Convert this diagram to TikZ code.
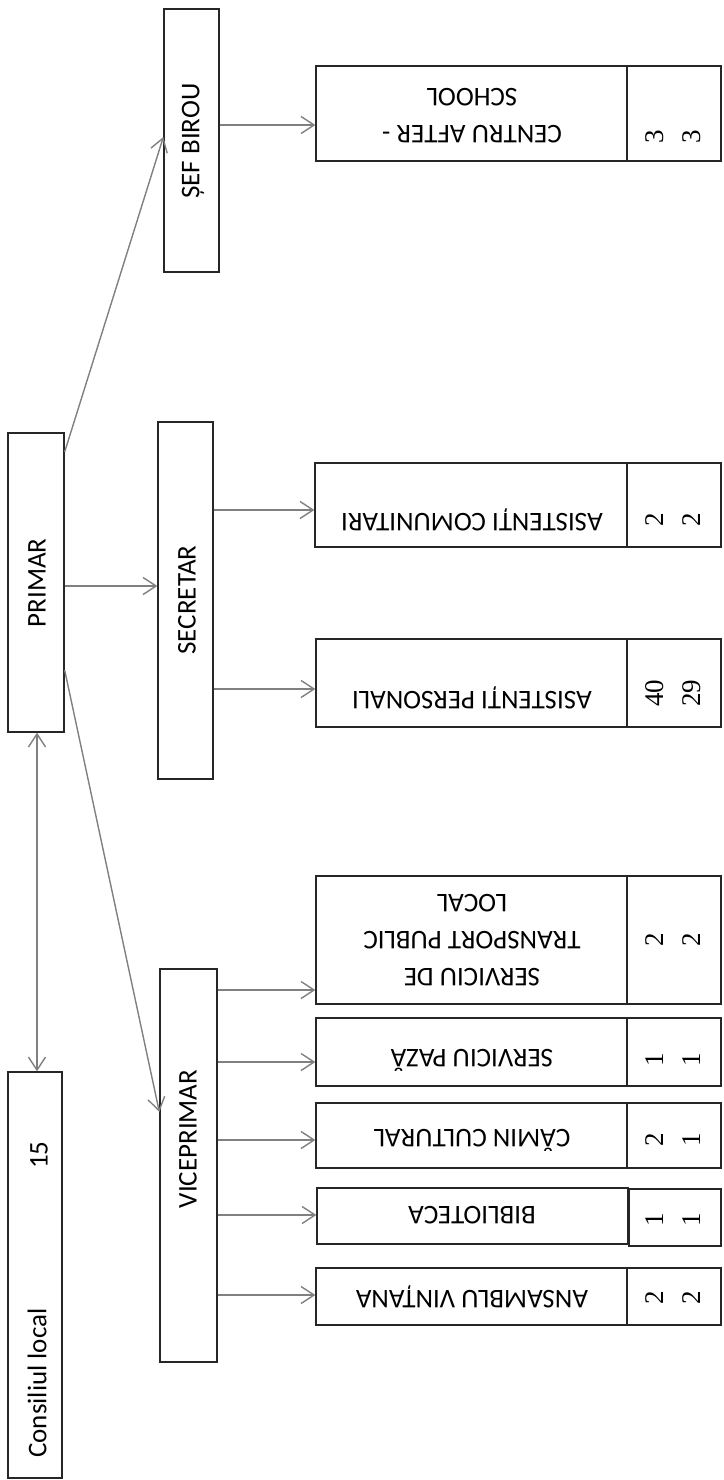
\documentclass[tikz,border=0pt]{standalone}
\usepackage{fontspec}
\setmainfont{Carlito}
\newfontfamily\numfont{Liberation Serif}
\usetikzlibrary{arrows.meta,fit}
\begin{document}
\begin{tikzpicture}[x=1pt,y=-1pt,
  box/.style={draw=black!85,line width=1.3pt,inner sep=0pt},
  conn/.style={draw=black!50,line width=1.4pt,-{Straight Barb[length=13pt,width=17pt,line width=1.4pt]}},
  dconn/.style={draw=black!50,line width=1.4pt,{Straight Barb[length=13pt,width=17pt,line width=1.4pt]}-{Straight Barb[length=13pt,width=17pt,line width=1.4pt]}},
  ltxt/.style={rotate=90,font=\fontsize{27}{32}\selectfont,inner sep=0pt},
  rtxt/.style={rotate=180,font=\fontsize{27}{37}\selectfont,align=center,inner sep=0pt},
  ntxt/.style={rotate=90,font=\numfont\fontsize{27}{30}\selectfont,inner sep=0pt}]
\useasboundingbox (0,0) rectangle (723,1480);
\fill[white] (0,0) rectangle (723,1480);

% left hierarchy boxes
\node[box,fit={(8,1072) (62,1478)}] (cons) {};
\node[ltxt] (constxt) at (37,1383) {Consiliul local};
\node[ltxt] (consnr) at (39,1155) {15};
\node[box,fit={(8,433) (64,732)}] (primar) {};
\node[ltxt] (primartxt) at (37,583) {PRIMAR};
\node[box,fit={(164,9) (219,272)}] (sef) {};
\node[ltxt] (seftxt) at (193,141) {ȘEF BIROU};
\node[box,fit={(158,422) (213,779)}] (secr) {};
\node[ltxt] (secrtxt) at (187,600) {SECRETAR};
\node[box,fit={(160,969) (217,1362)}] (vice) {};
\node[ltxt] (vicetxt) at (188,1139) {VICEPRIMAR};

% right column boxes
\node[box,fit={(316,66) (627,161)}] (after) {};
\node[box,fit={(627,66) (721,161)}] (aftern) {};
\node[rtxt] at (472,116) {CENTRU AFTER -\\SCHOOL};
\node[ntxt] at (655,137) {3};
\node[ntxt] at (692,137) {3};

\node[box,fit={(315,463) (627,547)}] (acom) {};
\node[box,fit={(627,463) (721,547)}] (acomn) {};
\node[rtxt] at (472,520) {ASISTENȚI COMUNITARI};
\node[ntxt] at (655,520) {2};
\node[ntxt] at (692,520) {2};

\node[box,fit={(316,639) (627,727)}] (apers) {};
\node[box,fit={(627,639) (721,727)}] (apersn) {};
\node[rtxt] at (472,698) {ASISTENȚI PERSONALI};
\node[ntxt] at (655,693) {40};
\node[ntxt] at (692,693) {29};

\node[box,fit={(316,876) (627,1004)}] (transp) {};
\node[box,fit={(627,876) (721,1004)}] (transpn) {};
\node[rtxt] at (472,940) {SERVICIU DE\\TRANSPORT PUBLIC\\LOCAL};
\node[ntxt] at (655,940) {2};
\node[ntxt] at (692,940) {2};

\node[box,fit={(316,1018) (627,1086)}] (paza) {};
\node[box,fit={(627,1018) (721,1086)}] (pazan) {};
\node[rtxt] at (472,1060) {SERVICIU PAZĂ};
\node[ntxt] at (655,1060) {1};
\node[ntxt] at (692,1060) {1};

\node[box,fit={(316,1103) (627,1168)}] (camin) {};
\node[box,fit={(627,1103) (721,1168)}] (caminn) {};
\node[rtxt] at (472,1140) {CĂMIN CULTURAL};
\node[ntxt] at (655,1140) {2};
\node[ntxt] at (692,1140) {1};

\node[box,fit={(317,1188) (628,1244)}] (bibl) {};
\node[box,fit={(629,1189) (721,1246)}] (bibln) {};
\node[rtxt] at (472,1215) {BIBLIOTECA};
\node[ntxt] at (655,1220) {1};
\node[ntxt] at (692,1220) {1};

\node[box,fit={(316,1268) (627,1325)}] (ansb) {};
\node[box,fit={(627,1268) (721,1325)}] (ansbn) {};
\node[rtxt] at (472,1297) {ANSAMBLU VINȚANA};
\node[ntxt] at (655,1298) {2};
\node[ntxt] at (692,1298) {2};

% connectors
\draw[dconn] (cons.north -| 37,0) -- (primar.south -| 37,0);
\draw[conn] (primar.east |- 0,586) -- (secr.west |- 0,586);
\draw[conn] (primar.east |- 0,452) -- (sef.west |- 0,137);
\draw[conn] (primar.east |- 0,670) -- (vice.west |- 0,1112);
\draw[conn] (sef.east |- 0,125) -- (after.west |- 0,125);
\draw[conn] (secr.east |- 0,510) -- (acom.west |- 0,510);
\draw[conn] (secr.east |- 0,689) -- (apers.west |- 0,689);
\draw[conn] (vice.east |- 0,990) -- (transp.west |- 0,990);
\draw[conn] (vice.east |- 0,1062) -- (paza.west |- 0,1062);
\draw[conn] (vice.east |- 0,1140) -- (camin.west |- 0,1140);
\draw[conn] (vice.east |- 0,1215) -- (bibl.west |- 0,1215);
\draw[conn] (vice.east |- 0,1295) -- (ansb.west |- 0,1295);
\end{tikzpicture}
\end{document}
